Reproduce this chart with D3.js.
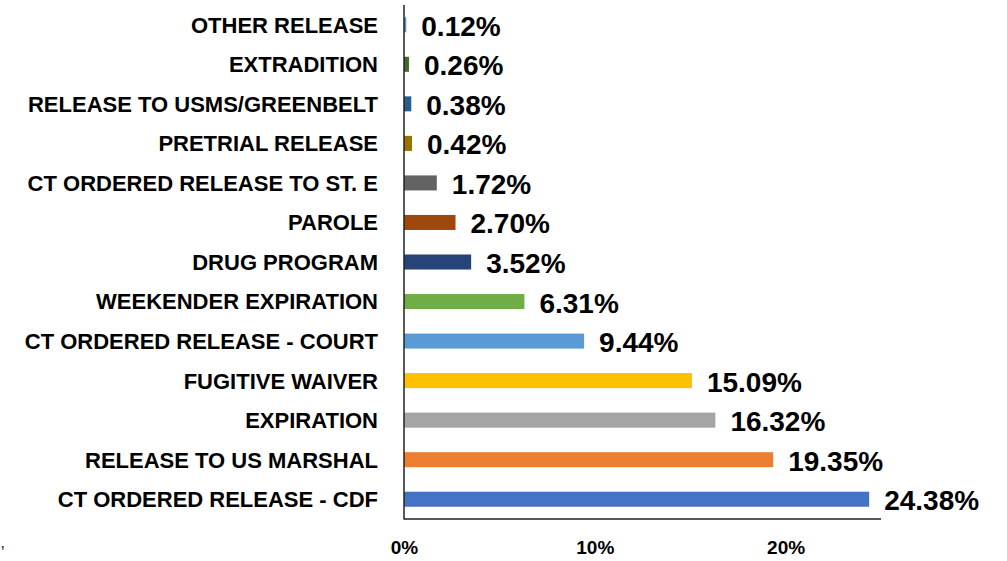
<!DOCTYPE html>
<html>
<head>
<meta charset="utf-8">
<script src="https://cdn.jsdelivr.net/npm/d3@7"></script>
<style>
  body { margin: 0; background: #fff; }
  svg { display: block; font-family: "Liberation Sans", Arial, sans-serif; font-weight: bold; }
</style>
</head>
<body>
<svg width="1007" height="561"></svg>
<script>
// categories top to bottom, as in the chart
var categories = [
  "OTHER RELEASE", "EXTRADITION", "RELEASE TO USMS/GREENBELT", "PRETRIAL RELEASE",
  "CT ORDERED RELEASE TO ST. E", "PAROLE", "DRUG PROGRAM", "WEEKENDER EXPIRATION",
  "CT ORDERED RELEASE - COURT", "FUGITIVE WAIVER", "EXPIRATION",
  "RELEASE TO US MARSHAL", "CT ORDERED RELEASE - CDF"
];
var values = [0.0012, 0.0026, 0.0038, 0.0042, 0.0172, 0.0270, 0.0352, 0.0631,
  0.0944, 0.1509, 0.1632, 0.1935, 0.2438];
var barColors = ["#698ED0", "#43682B", "#255E91", "#997300", "#636363", "#9E480E",
  "#264478", "#70AD47", "#5B9BD5", "#FFC000", "#A5A5A5", "#ED7D31", "#4472C4"];
var tickValues = [0, 0.1, 0.2];

var svg = d3.select("svg");

var x = d3.scaleLinear().domain([0, 0.25]).range([404, 881]);
var y = d3.scaleBand().domain(categories).range([5, 519])
  .paddingInner(0.62).paddingOuter(0.31);

var data = categories.map(function(c, i) {
  return { label: c, value: values[i], color: barColors[i] };
});

// bars
svg.selectAll("rect.bar").data(data).enter().append("rect")
  .attr("class", "bar")
  .attr("x", x(0))
  .attr("y", function(d) { return y(d.label); })
  .attr("width", function(d) { return x(d.value) - x(0); })
  .attr("height", y.bandwidth())
  .attr("fill", function(d) { return d.color; });

// value labels
svg.selectAll("text.val").data(data).enter().append("text")
  .attr("class", "val")
  .attr("x", function(d) { return x(d.value) + 15; })
  .attr("y", function(d) { return y(d.label) + y.bandwidth() / 2 + 11; })
  .attr("font-size", 28)
  .attr("fill", "#000")
  .text(function(d) { return d3.format(".2%")(d.value); });

// category labels
var yAxis = d3.axisLeft(y).tickSize(0).tickPadding(26);
var gy = svg.append("g").attr("transform", "translate(404,0)").call(yAxis);
gy.select(".domain").remove();
gy.selectAll("text")
  .attr("font-size", 22)
  .attr("font-family", "Liberation Sans, Arial, sans-serif")
  .attr("font-weight", "bold")
  .attr("fill", "#000")
  .attr("dy", "0.36em");

// x axis
var xAxis = d3.axisBottom(x).tickValues(tickValues).tickSize(0).tickPadding(22)
  .tickFormat(d3.format(".0%"));
var gx = svg.append("g").attr("transform", "translate(0,519)").call(xAxis);
gx.select(".domain").remove();
gx.selectAll("text")
  .attr("font-size", 19)
  .attr("font-family", "Liberation Sans, Arial, sans-serif")
  .attr("font-weight", "bold")
  .attr("fill", "#000");

// axis lines
svg.append("line")
  .attr("x1", x(0)).attr("x2", x(0)).attr("y1", 5).attr("y2", 519.5)
  .attr("stroke", "#222").attr("stroke-width", 1.5);
svg.append("line")
  .attr("x1", x(0)).attr("x2", x(0.25)).attr("y1", 519).attr("y2", 519)
  .attr("stroke", "#222").attr("stroke-width", 1.5);

// stray mark at bottom-left of the original image
svg.append("text").attr("x", 1).attr("y", 548).attr("font-size", 12)
  .attr("fill", "#444").text(",");
</script>
</body>
</html>
